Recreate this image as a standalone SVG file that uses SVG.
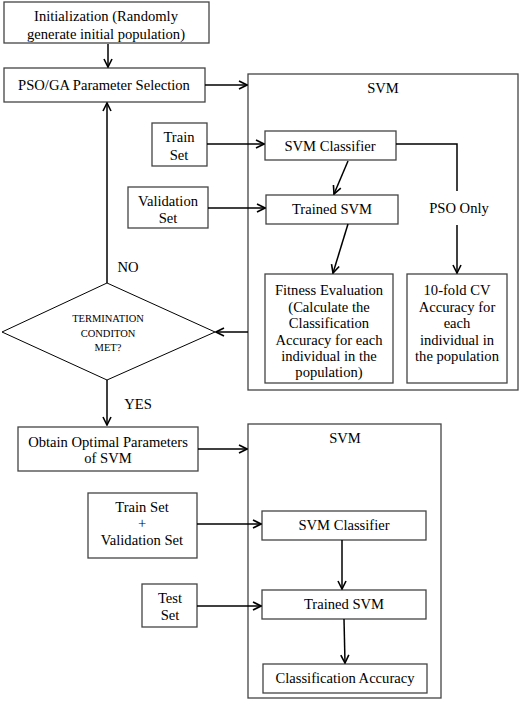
<svg xmlns="http://www.w3.org/2000/svg" width="521" height="707" viewBox="0 0 521 707" font-family="Liberation Serif, Times New Roman, serif" font-size="14.6">
<defs>
<marker id="ah" markerWidth="10" markerHeight="10" refX="9" refY="5" orient="auto" markerUnits="userSpaceOnUse">
<path d="M1,1 L9,5 L1,9" fill="none" stroke="#000" stroke-width="1.6"/>
</marker>
<style>
.box{fill:#fff;stroke:#444;stroke-width:1.3}
text{fill:#000;text-anchor:middle;dominant-baseline:central}
.s{font-size:10.5px}
.c{fill:none;stroke:#000;stroke-width:1.5}
.ca{fill:none;stroke:#000;stroke-width:1.5;marker-end:url(#ah)}
</style>
</defs>
<rect width="521" height="707" fill="#fff"/>

<g id="svm1">
<rect class="box" x="248" y="74" width="270" height="316"/>
<text x="383" y="88">SVM</text>
</g>
<g id="svm2">
<rect class="box" x="248" y="424" width="193" height="274"/>
<text x="345" y="438">SVM</text>
</g>

<g id="init">
<rect class="box" x="4" y="2" width="205" height="41"/>
<text x="106" y="16">Initialization (Randomly</text>
<text x="106" y="34">generate initial population)</text>
</g>
<g id="pso">
<rect class="box" x="4" y="68" width="201" height="34"/>
<text x="104" y="85">PSO/GA Parameter Selection</text>
</g>
<g id="train1">
<rect class="box" x="152" y="123" width="55" height="43"/>
<text x="179" y="137">Train</text>
<text x="179" y="155">Set</text>
</g>
<g id="val1">
<rect class="box" x="128" y="187" width="80" height="41"/>
<text x="168" y="201">Validation</text>
<text x="168" y="218">Set</text>
</g>
<g id="clf1">
<rect class="box" x="265" y="131" width="131" height="29"/>
<text x="330" y="146">SVM Classifier</text>
</g>
<g id="trained1">
<rect class="box" x="266" y="195" width="132" height="29"/>
<text x="332" y="209">Trained SVM</text>
</g>
<g id="fitness">
<rect class="box" x="265" y="274" width="128" height="109"/>
<text x="329" y="290">Fitness Evaluation</text>
<text x="329" y="307">(Calculate the</text>
<text x="329" y="323">Classification</text>
<text x="329" y="340">Accuracy for each</text>
<text x="329" y="356">individual in the</text>
<text x="329" y="372">population)</text>
</g>
<g id="cv">
<rect class="box" x="407" y="274" width="100" height="109"/>
<text x="457" y="290">10-fold CV</text>
<text x="457" y="307">Accuracy for</text>
<text x="457" y="323">each</text>
<text x="457" y="340">individual in</text>
<text x="457" y="356">the population</text>
</g>
<g id="decision">
<polygon fill="#fff" stroke="#000" stroke-width="1" points="107,283 215,332 107,380 2,332"/>
<text class="s" x="108" y="318">TERMINATION</text>
<text class="s" x="108" y="333">CONDITON</text>
<text class="s" x="108" y="347">MET?</text>
</g>
<g id="obtain">
<rect class="box" x="18" y="427" width="180" height="44"/>
<text x="108" y="442">Obtain Optimal Parameters</text>
<text x="108" y="458">of SVM</text>
</g>
<g id="trainval">
<rect class="box" x="88" y="493" width="109" height="65"/>
<text x="142" y="507">Train Set</text>
<text x="142" y="523">+</text>
<text x="142" y="540">Validation Set</text>
</g>
<g id="test">
<rect class="box" x="142" y="584" width="55" height="43"/>
<text x="170" y="598">Test</text>
<text x="170" y="615">Set</text>
</g>
<g id="clf2">
<rect class="box" x="262" y="511" width="164" height="29"/>
<text x="344" y="525">SVM Classifier</text>
</g>
<g id="trained2">
<rect class="box" x="262" y="590" width="164" height="29"/>
<text x="344" y="604">Trained SVM</text>
</g>
<g id="acc">
<rect class="box" x="263" y="664" width="164" height="29"/>
<text x="345" y="678">Classification Accuracy</text>
</g>

<g id="connectors">
<line class="ca" x1="108" y1="44" x2="108" y2="67"/>
<line class="ca" x1="205" y1="85" x2="247" y2="85"/>
<line class="ca" x1="207" y1="144" x2="264" y2="144"/>
<line class="ca" x1="208" y1="208" x2="265" y2="208"/>
<line class="ca" x1="348" y1="161" x2="334" y2="194"/>
<line class="ca" x1="348" y1="224" x2="333" y2="273"/>
<polyline class="c" stroke-width="2" points="396,144 457,144 457,191"/>
<text x="459" y="208">PSO Only</text>
<line class="ca" stroke-width="2" x1="457" y1="225" x2="457" y2="273"/>
<line class="ca" stroke-width="2" x1="248" y1="332" x2="216" y2="332"/>
<line class="ca" x1="107" y1="283" x2="107" y2="103"/>
<text x="128" y="267">NO</text>
<line class="ca" x1="107" y1="380" x2="107" y2="425"/>
<text x="138" y="404">YES</text>
<line class="ca" x1="198" y1="449" x2="247" y2="449"/>
<line class="ca" x1="197" y1="524" x2="261" y2="524"/>
<line class="ca" x1="197" y1="606" x2="261" y2="606"/>
<line class="ca" x1="342" y1="540" x2="342" y2="589"/>
<line class="ca" x1="344" y1="619" x2="345" y2="663"/>
</g>
</svg>
